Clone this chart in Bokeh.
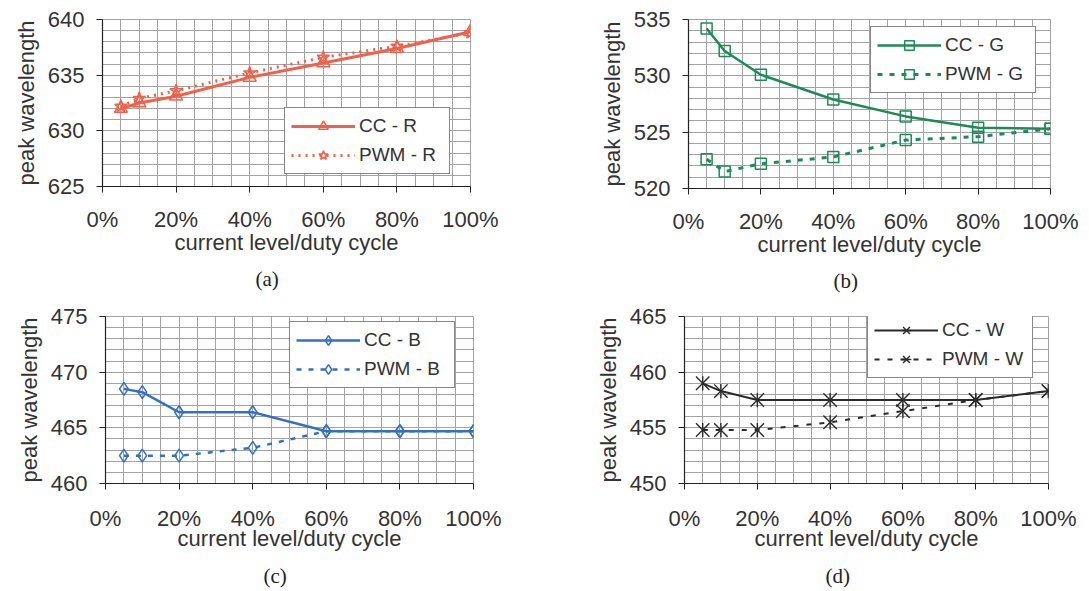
import math
from bokeh.plotting import figure
from bokeh.layouts import column, row
from bokeh.models import (Range1d, FixedTicker, PrintfTickFormatter, Legend,
                          LegendItem, Title)
from bokeh.embed import file_html
from bokeh.resources import INLINE

# ---------------- data ----------------
x_pct = [5, 10, 20, 40, 60, 80, 100]
x_ticks = [0, 20, 40, 60, 80, 100]

cc_r = [632.0, 632.5, 633.1, 634.8, 636.1, 637.4, 638.9]
pwm_r = [632.2, 632.9, 633.6, 635.2, 636.6, 637.6, 638.8]

cc_g = [534.2, 532.2, 530.1, 527.9, 526.4, 525.4, 525.3]
pwm_g = [522.6, 521.5, 522.2, 522.8, 524.3, 524.6, 525.3]

cc_b = [468.5, 468.2, 466.4, 466.4, 464.7, 464.7, 464.7]
pwm_b = [462.5, 462.5, 462.5, 463.2, 464.7, 464.7, 464.7]

cc_w = [459.0, 458.3, 457.5, 457.5, 457.5, 457.5, 458.3]
pwm_w = [454.8, 454.8, 454.8, 455.5, 456.5, 457.5, 458.3]

FONT = "Liberation Sans"
TXT = "#333333"
GRID = "#a3a3a3"


def make_panel(cc, pwm, lbl, color, marker, yr, caption, geom, leg_loc,
               dash, dash_w, cc_w_, marker_size, cap_offset, x_std, t_std,
               cap_std):
    left, fw, right, top, fh, bottom = geom
    p = figure(frame_width=fw, frame_height=fh, min_border_left=left,
               min_border_right=right, min_border_top=top,
               min_border_bottom=bottom, output_backend="svg",
               toolbar_location=None, x_range=Range1d(0, 100),
               y_range=Range1d(yr[0], yr[1]))
    p.outline_line_color = GRID
    p.background_fill_color = "white"
    p.border_fill_color = "white"

    # grids
    p.xgrid.ticker = FixedTicker(ticks=list(range(0, 101, 5)))
    p.ygrid.ticker = FixedTicker(ticks=list(range(yr[0], yr[1] + 1, 1)))
    for g in (p.xgrid, p.ygrid):
        g.grid_line_color = GRID
        g.grid_line_width = 1

    # axes
    p.xaxis.ticker = FixedTicker(ticks=x_ticks)
    p.xaxis.formatter = PrintfTickFormatter(format="%d%%")
    p.yaxis.ticker = FixedTicker(ticks=list(range(yr[0], yr[1] + 1, 5)))
    p.xaxis.axis_label = "current level/duty cycle"
    p.yaxis.axis_label = "peak wavelength"
    for ax in (p.xaxis, p.yaxis):
        ax.axis_line_color = "#222222"
        ax.axis_line_width = 1.2
        ax.major_tick_line_color = "#222222"
        ax.major_tick_in = 0
        ax.major_tick_out = 6
        ax.minor_tick_line_color = None
        ax.major_label_text_font = FONT
        ax.major_label_text_font_size = "22px"
        ax.major_label_text_color = TXT
        ax.axis_label_text_font = FONT
        ax.axis_label_text_font_size = "22px"
        ax.axis_label_text_font_style = "normal"
        ax.axis_label_text_color = TXT
    p.xaxis.major_label_standoff = x_std
    p.xaxis.axis_label_standoff = t_std
    p.yaxis.major_label_standoff = 12
    p.yaxis.axis_label_standoff = 6

    # series
    l1 = p.line(x_pct, cc, line_color=color, line_width=cc_w_)
    l2 = p.line(x_pct, pwm, line_color=color, line_width=dash_w,
                line_dash=dash)
    rs1 = [l1]
    rs2 = [l2]
    if marker == "star6":
        for data, rs in ((cc, rs1), (pwm, rs2)):
            rs.append(p.scatter(x_pct, data, marker="x", size=marker_size,
                                line_color=color, line_width=1.4))
            rs.append(p.scatter(x_pct, data, marker="dash",
                                size=marker_size * 0.75, angle=math.pi / 2,
                                line_color=color, line_width=1.4))
    else:
        m1, m2 = marker
        rs1.append(p.scatter(x_pct, cc, marker=m1, size=marker_size,
                             line_color=color, line_width=1.5,
                             fill_alpha=0))
        rs2.append(p.scatter(x_pct, pwm, marker=m2, size=marker_size,
                             line_color=color, line_width=1.5,
                             fill_alpha=0))

    legend = Legend(items=[LegendItem(label="CC - " + lbl, renderers=rs1),
                           LegendItem(label="PWM - " + lbl, renderers=rs2)],
                    location=leg_loc)
    legend.label_text_font = FONT
    legend.label_text_font_size = "19px"
    legend.label_text_color = TXT
    legend.glyph_width = 64
    legend.glyph_height = 24
    legend.label_height = 24
    legend.label_standoff = 4
    legend.spacing = 5
    legend.padding = 6
    legend.margin = 0
    legend.label_width = 84
    legend.border_line_color = "#111111"
    legend.border_line_width = 1
    legend.background_fill_color = "white"
    legend.background_fill_alpha = 1
    p.add_layout(legend)

    cap = Title(text=caption, align="left", offset=cap_offset,
                text_font="Liberation Serif", text_font_size="21px",
                text_font_style="normal", text_color="#222222",
                standoff=cap_std)
    p.add_layout(cap, "below")
    return p


pa = make_panel(cc_r, pwm_r, "R", "#F2604A", ("triangle", "star"),
                (625, 640), "(a)", (102, 368, 90, 19, 167, 114), (182, 12),
                "2 5", 3, 3, 13, 153, 14, -5, 15)
pb = make_panel(cc_g, pwm_g, "G", "#1E8A58", ("square", "square"),
                (520, 535), "(b)", (128, 362, 36, 17, 169, 114), (182, 95),
                "5 7", 3, 2.5, 11, 145, 14, -5, 15)
pc = make_panel(cc_b, pwm_b, "B", "#3470C0", ("diamond", "diamond"),
                (460, 475), "(c)", (105, 368, 87, 16, 167, 105), (184, 95),
                "5 7", 2.5, 2.5, 13, 158, 16, -8, 16)
pd = make_panel(cc_w, pwm_w, "W", "#2a2a2a", "star6",
                (450, 465), "(d)", (124, 364, 38, 16, 167, 105), (183, 105),
                "5 8", 2, 2, 19, 141, 16, -8, 16)

layout = column(row(pa, pb), row(pc, pd))

html = file_html(layout, INLINE)
with open("out.html", "w") as f:
    f.write(html)
